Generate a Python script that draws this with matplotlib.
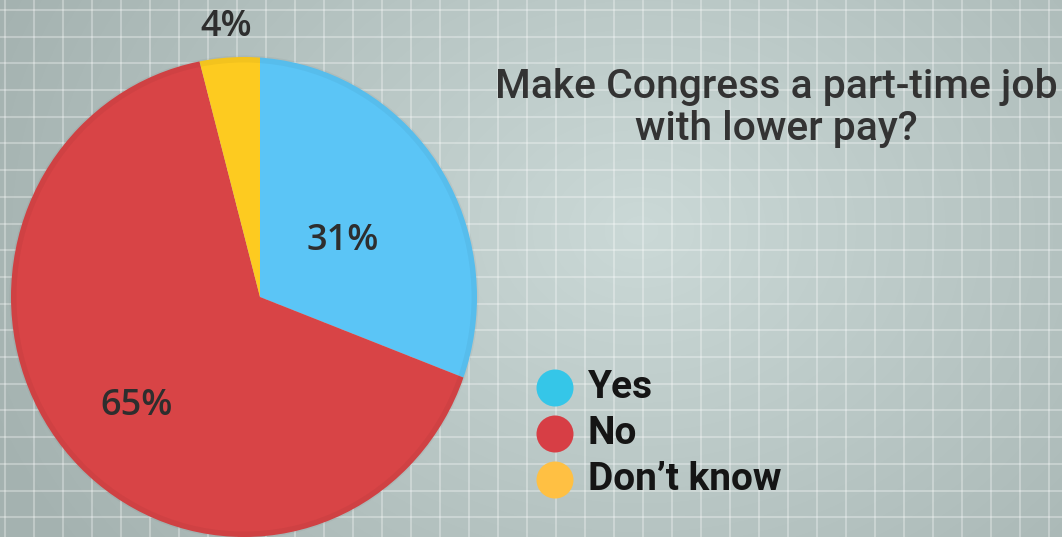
import numpy as np
import matplotlib
matplotlib.use("Agg")
import matplotlib.pyplot as plt
from matplotlib.patches import Ellipse

# ---- data ----
categories = ["Yes", "No", "Don\u2019t know"]
values = [31, 65, 4]
pct_labels = ["31%", "65%", "4%"]
title = "Make Congress a part-time job\nwith lower pay?"

# ---- style ----
pie_colors = ["#5BC5F6", "#D84446", "#FDCB20"]
legend_colors = ["#35C6E8", "#D73E45", "#FFC043"]
label_dist = [0.38, 0.63, 1.04]

W, H = 1062, 537
fig = plt.figure(figsize=(W / 100, H / 100), dpi=100)
ax = fig.add_axes([0, 0, 1, 1])

# background radial gradient
yy, xx = np.mgrid[0:H, 0:W]
d = np.hypot((xx - 640) / 700.0, (yy - 230) / 560.0)
d = np.clip(d, 0, 1)
c0 = np.array([0xCB, 0xD9, 0xD7]) / 255.0
c1 = np.array([0xA4, 0xB2, 0xB0]) / 255.0
img = c0[None, None, :] * (1 - d[..., None]) + c1[None, None, :] * d[..., None]
ax.imshow(img, extent=(0, W, 0, H), origin="upper", zorder=0, aspect="auto")

# grid
for gx in np.arange(5, W, 29.0):
    ax.axvline(gx, color="white", alpha=0.3, lw=1.5, zorder=1)
for gy in np.arange(H - 10, 0, -26.7):
    ax.axhline(gy, color="white", alpha=0.3, lw=1.5, zorder=1)

# pie: apex at (260, 297px), outline ellipse centred (244, 297px)
apex = (260, H - 297)
wedges, _ = ax.pie(values, colors=pie_colors, startangle=90, counterclock=False,
                   center=apex, radius=280, frame=True,
                   wedgeprops=dict(linewidth=0))
outline = Ellipse((244, H - 297), 466, 480, facecolor="none", edgecolor="none")
ax.add_patch(outline)
for w in wedges:
    w.set_zorder(3)
    w.set_edgecolor("none")
    w.set_clip_on(True)
    w.set_clip_path(outline)
# subtle darker rim
rim = Ellipse((244, H - 297), 462, 476, facecolor="none", edgecolor="black",
              alpha=0.04, lw=5, zorder=4)
ax.add_patch(rim)

# percent labels
R = 262
for w, lab, f in zip(wedges, pct_labels, label_dist):
    ang = np.deg2rad((w.theta1 + w.theta2) / 2)
    x = apex[0] + f * R * np.cos(ang)
    y = apex[1] + f * R * np.sin(ang)
    ax.text(x, y, lab, ha="center", va="center", fontsize=26,
            color="#2E2E2E", fontfamily="Open Sans", fontweight="semibold",
            zorder=5)

# title
ax.text(776, H - 108, title, ha="center", va="center", fontsize=29.4,
        color="#333333", fontfamily="Roboto", fontweight="medium",
        linespacing=1.15, zorder=5)

# legend
ly = [388, 434, 480]
for cat, col, y in zip(categories, legend_colors, ly):
    ax.scatter([555], [H - y], s=(37 * 0.72) ** 2, color=col, zorder=5,
               edgecolors="none")
    ax.text(588, H - y, cat, ha="left", va="center", fontsize=28,
            color="#151515", fontfamily="Roboto", fontweight="bold", zorder=5)

ax.set_xlim(0, W)
ax.set_ylim(0, H)
ax.set_aspect("auto")
ax.axis("off")
fig.savefig("out.png", dpi=100)
